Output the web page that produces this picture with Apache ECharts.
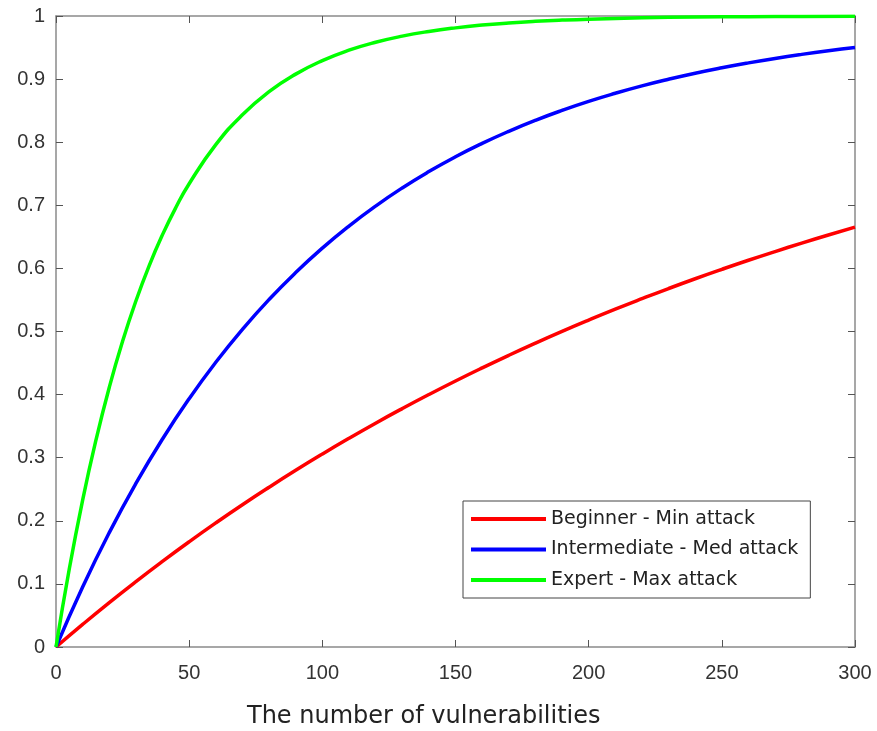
<!DOCTYPE html>
<html>
<head>
<meta charset="utf-8">
<script src="https://cdn.jsdelivr.net/npm/echarts@6/dist/echarts.min.js"></script>
<style>html,body{margin:0;padding:0;background:#fff;}#c{width:877px;height:731px;}</style>
</head>
<body>
<div id="c"></div>
<script>
var seriesNames = ['Beginner - Min attack', 'Intermediate - Med attack', 'Expert - Max attack'];
var xAxisTitle = 'The number of vulnerabilities';
var xRedBlue = [0,10,20,30,40,50,60,70,80,90,100,110,120,130,140,150,160,170,180,190,200,210,220,230,240,250,260,270,280,290,300];
var redValues = [0,0.0358,0.0704,0.1037,0.1358,0.1668,0.1967,0.2255,0.2532,0.2800,0.3058,0.3307,0.3547,0.3778,0.4001,0.4216,0.4423,0.4623,0.4816,0.5002,0.5181,0.5354,0.5520,0.5681,0.5836,0.5985,0.6129,0.6267,0.6401,0.6530,0.6655];
var blueValues = [0,0.0952,0.1813,0.2592,0.3297,0.3935,0.4512,0.5034,0.5507,0.5934,0.6321,0.6671,0.6988,0.7275,0.7534,0.7769,0.7981,0.8173,0.8347,0.8504,0.8647,0.8775,0.8892,0.8997,0.9093,0.9179,0.9257,0.9328,0.9392,0.9450,0.9502];
var xGreen = [0,5,10,15,20,25,30,35,40,45,50,60,70,80,90,100,110,120,130,140,150,160,170,180,190,200,220,240,260,280,300];
var greenValues = [0,0.1241,0.2328,0.3280,0.4114,0.4844,0.5484,0.6045,0.6535,0.6965,0.7342,0.7961,0.8435,0.8800,0.9079,0.9293,0.9458,0.9584,0.9681,0.9755,0.9812,0.9856,0.9889,0.9915,0.9935,0.9950,0.9971,0.9983,0.9990,0.9994,0.9996];

function pairs(xs, ys){ return xs.map(function(x,i){ return [x, ys[i]]; }); }

var axisGray = '#8a8a8a';
var tickGray = '#555';
var labelColor = '#333';
var tickFont = 'Liberation Sans, Arial, sans-serif';
var chart = echarts.init(document.getElementById('c'));
chart.setOption({
  animation: false,
  backgroundColor: '#fff',
  grid: { left: 56, top: 16, width: 799, height: 631, containLabel: false },
  title: {
    text: xAxisTitle, left: 247, top: 705, padding: 0,
    textStyle: { fontFamily: 'DejaVu Sans, sans-serif', fontSize: 24, fontWeight: 'normal', color: '#222' }
  },
  legend: {
    orient: 'vertical',
    left: 463, top: 501,
    backgroundColor: '#fff',
    borderColor: '#444', borderWidth: 1,
    padding: [8, 12, 8, 8],
    itemWidth: 75, itemHeight: 4, itemGap: 10.5,
    icon: 'rect',
    textStyle: { fontFamily: 'DejaVu Sans, sans-serif', fontSize: 19, color: '#222', lineHeight: 20 },
    data: seriesNames
  },
  xAxis: [{
    type: 'value', min: 0, max: 300, interval: 50,
    axisLine: { show: true, onZero: false, lineStyle: { color: axisGray, width: 1.5 } },
    axisTick: { show: true, inside: true, length: 7, lineStyle: { color: tickGray } },
    axisLabel: { fontFamily: tickFont, fontSize: 20, color: labelColor, margin: 16 },
    splitLine: { show: false }
  }, {
    type: 'value', min: 0, max: 300, interval: 50, position: 'top',
    axisLine: { show: true, onZero: false, lineStyle: { color: axisGray, width: 1.5 } },
    axisTick: { show: true, inside: true, length: 7, lineStyle: { color: tickGray } },
    axisLabel: { show: false }, splitLine: { show: false }
  }],
  yAxis: [{
    type: 'value', min: 0, max: 1, interval: 0.1,
    axisLine: { show: true, onZero: false, lineStyle: { color: axisGray, width: 1.5 } },
    axisTick: { show: true, inside: true, length: 7, lineStyle: { color: tickGray } },
    axisLabel: { fontFamily: tickFont, fontSize: 20, color: labelColor, margin: 11,
      formatter: function(v){ return String(Math.round(v*10)/10); } },
    splitLine: { show: false }
  }, {
    type: 'value', min: 0, max: 1, interval: 0.1, position: 'right',
    axisLine: { show: true, onZero: false, lineStyle: { color: axisGray, width: 1.5 } },
    axisTick: { show: true, inside: true, length: 7, lineStyle: { color: tickGray } },
    axisLabel: { show: false }, splitLine: { show: false }
  }],
  series: [
    { name: seriesNames[0], type: 'line', data: pairs(xRedBlue, redValues), smooth: true, showSymbol: false,
      lineStyle: { color: '#ff0000', width: 3.5 }, itemStyle: { color: '#ff0000' } },
    { name: seriesNames[1], type: 'line', data: pairs(xRedBlue, blueValues), smooth: true, showSymbol: false,
      lineStyle: { color: '#0000ff', width: 3.5 }, itemStyle: { color: '#0000ff' } },
    { name: seriesNames[2], type: 'line', data: pairs(xGreen, greenValues), smooth: true, showSymbol: false,
      lineStyle: { color: '#00ff00', width: 3.5 }, itemStyle: { color: '#00ff00' } }
  ]
});
</script>
</body>
</html>
